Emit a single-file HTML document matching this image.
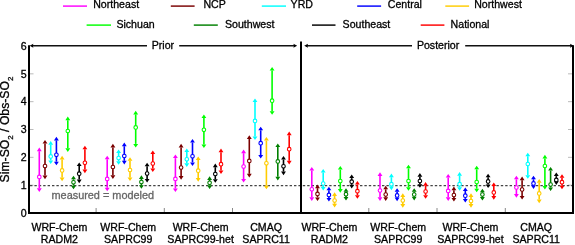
<!DOCTYPE html>
<html><head><meta charset="utf-8"><style>
html,body{margin:0;padding:0;background:#fff;overflow:hidden}
svg{display:block;will-change:transform}
text{font-family:"Liberation Sans", sans-serif;font-size:10.6px;fill:#000;stroke:#000;stroke-width:0.3px}
</style></head><body>
<svg width="575" height="245" viewBox="0 0 575 245">
<rect width="575" height="245" fill="#fff"/>
<line x1="63" y1="6.1" x2="87" y2="6.1" stroke="#ff00ff" stroke-width="1.45"/>
<text x="93.2" y="8.45">Northeast</text>
<line x1="170.8" y1="6.1" x2="194.6" y2="6.1" stroke="#7a0000" stroke-width="1.45"/>
<text x="203.4" y="8.45">NCP</text>
<line x1="261.8" y1="6.1" x2="286" y2="6.1" stroke="#00ffff" stroke-width="1.45"/>
<text x="290.6" y="8.45">YRD</text>
<line x1="357.2" y1="6.1" x2="381.1" y2="6.1" stroke="#0000ff" stroke-width="1.45"/>
<text x="387.8" y="8.45">Central</text>
<line x1="445.3" y1="6.1" x2="469.1" y2="6.1" stroke="#ffcc00" stroke-width="1.45"/>
<text x="474.2" y="8.45">Northwest</text>
<line x1="86.6" y1="25.1" x2="111" y2="25.1" stroke="#00ff00" stroke-width="1.45"/>
<text x="116.4" y="27.6">Sichuan</text>
<line x1="193.8" y1="25.1" x2="217.8" y2="25.1" stroke="#008000" stroke-width="1.45"/>
<text x="225" y="27.6">Southwest</text>
<line x1="312" y1="25.1" x2="335.5" y2="25.1" stroke="#000000" stroke-width="1.45"/>
<text x="342.6" y="27.6">Southeast</text>
<line x1="420.7" y1="25.1" x2="444.4" y2="25.1" stroke="#ff0000" stroke-width="1.45"/>
<text x="450.6" y="27.6">National</text>
<text x="26.6" y="216.7" text-anchor="end">0</text>
<text x="26.6" y="188.87" text-anchor="end">1</text>
<line x1="30" y1="185.17" x2="33.5" y2="185.17" stroke="#aaa" stroke-width="0.8"/>
<line x1="568" y1="185.17" x2="572" y2="185.17" stroke="#aaa" stroke-width="0.8"/>
<text x="26.6" y="161.03" text-anchor="end">2</text>
<line x1="30" y1="157.33" x2="33.5" y2="157.33" stroke="#aaa" stroke-width="0.8"/>
<line x1="568" y1="157.33" x2="572" y2="157.33" stroke="#aaa" stroke-width="0.8"/>
<text x="26.6" y="133.2" text-anchor="end">3</text>
<line x1="30" y1="129.5" x2="33.5" y2="129.5" stroke="#aaa" stroke-width="0.8"/>
<line x1="568" y1="129.5" x2="572" y2="129.5" stroke="#aaa" stroke-width="0.8"/>
<text x="26.6" y="105.37" text-anchor="end">4</text>
<line x1="30" y1="101.67" x2="33.5" y2="101.67" stroke="#aaa" stroke-width="0.8"/>
<line x1="568" y1="101.67" x2="572" y2="101.67" stroke="#aaa" stroke-width="0.8"/>
<text x="26.6" y="77.54" text-anchor="end">5</text>
<line x1="30" y1="73.84" x2="33.5" y2="73.84" stroke="#aaa" stroke-width="0.8"/>
<line x1="568" y1="73.84" x2="572" y2="73.84" stroke="#aaa" stroke-width="0.8"/>
<text x="26.6" y="49.7" text-anchor="end">6</text>
<text transform="translate(9.0,129.5) rotate(-90)" text-anchor="middle" style="font-size:12.2px">Sim-SO<tspan style="font-size:8px" dy="3.5">2</tspan><tspan dy="-3.5"> / Obs-SO</tspan><tspan style="font-size:8px" dy="3.5">2</tspan></text>
<line x1="30" y1="185.6" x2="572" y2="185.6" stroke="#444" stroke-width="1.2" stroke-dasharray="2.4 2"/>
<text x="51.5" y="199.4" style="fill:#666;stroke:#666;font-size:10.9px">measured = modeled</text>
<line x1="96.1" y1="208" x2="96.1" y2="212" stroke="#888" stroke-width="1"/>
<line x1="164.3" y1="208" x2="164.3" y2="212" stroke="#888" stroke-width="1"/>
<line x1="232.5" y1="208" x2="232.5" y2="212" stroke="#888" stroke-width="1"/>
<line x1="368.8" y1="208" x2="368.8" y2="212" stroke="#888" stroke-width="1"/>
<line x1="437" y1="208" x2="437" y2="212" stroke="#888" stroke-width="1"/>
<line x1="505.3" y1="208" x2="505.3" y2="212" stroke="#888" stroke-width="1"/>
<line x1="39.3" y1="151.2" x2="39.3" y2="188.3" stroke="#ff00ff" stroke-width="1.6"/>
<path d="M39.3 147.6L41.75 151.2L36.85 151.2Z M39.3 191.9L41.75 188.3L36.85 188.3Z" fill="#ff00ff"/>
<circle cx="39.3" cy="176.9" r="1.8" fill="#fff" stroke="#ff00ff" stroke-width="1.1"/>
<line x1="45" y1="143.5" x2="45" y2="175.6" stroke="#7a0000" stroke-width="1.6"/>
<path d="M45 139.9L47.45 143.5L42.55 143.5Z M45 179.2L47.45 175.6L42.55 175.6Z" fill="#7a0000"/>
<circle cx="45" cy="166.1" r="1.8" fill="#fff" stroke="#7a0000" stroke-width="1.1"/>
<line x1="50.7" y1="144.7" x2="50.7" y2="160.4" stroke="#00ffff" stroke-width="1.6"/>
<path d="M50.7 141.1L53.15 144.7L48.25 144.7Z M50.7 164L53.15 160.4L48.25 160.4Z" fill="#00ffff"/>
<circle cx="50.7" cy="156.4" r="1.8" fill="#fff" stroke="#00ffff" stroke-width="1.1"/>
<line x1="56.4" y1="140.4" x2="56.4" y2="161.7" stroke="#0000ff" stroke-width="1.6"/>
<path d="M56.4 136.8L58.85 140.4L53.95 140.4Z M56.4 165.3L58.85 161.7L53.95 161.7Z" fill="#0000ff"/>
<circle cx="56.4" cy="154.8" r="1.8" fill="#fff" stroke="#0000ff" stroke-width="1.1"/>
<line x1="62.1" y1="159.4" x2="62.1" y2="177.6" stroke="#ffcc00" stroke-width="1.6"/>
<path d="M62.1 155.8L64.55 159.4L59.65 159.4Z M62.1 181.2L64.55 177.6L59.65 177.6Z" fill="#ffcc00"/>
<circle cx="62.1" cy="170.4" r="1.8" fill="#fff" stroke="#ffcc00" stroke-width="1.1"/>
<line x1="67.8" y1="120.2" x2="67.8" y2="148.3" stroke="#00ff00" stroke-width="1.6"/>
<path d="M67.8 116.6L70.25 120.2L65.35 120.2Z M67.8 151.9L70.25 148.3L65.35 148.3Z" fill="#00ff00"/>
<circle cx="67.8" cy="131" r="1.8" fill="#fff" stroke="#00ff00" stroke-width="1.1"/>
<line x1="73.5" y1="179.3" x2="73.5" y2="185.7" stroke="#008000" stroke-width="1.6"/>
<path d="M73.5 175.7L75.95 179.3L71.05 179.3Z M73.5 189.3L75.95 185.7L71.05 185.7Z" fill="#008000"/>
<circle cx="73.5" cy="182.3" r="1.8" fill="#fff" stroke="#008000" stroke-width="1.1"/>
<line x1="79.2" y1="166" x2="79.2" y2="179.6" stroke="#000000" stroke-width="1.6"/>
<path d="M79.2 162.4L81.65 166L76.75 166Z M79.2 183.2L81.65 179.6L76.75 179.6Z" fill="#000000"/>
<circle cx="79.2" cy="173.7" r="1.8" fill="#fff" stroke="#000000" stroke-width="1.1"/>
<line x1="84.9" y1="149.3" x2="84.9" y2="169.6" stroke="#ff0000" stroke-width="1.6"/>
<path d="M84.9 145.7L87.35 149.3L82.45 149.3Z M84.9 173.2L87.35 169.6L82.45 169.6Z" fill="#ff0000"/>
<circle cx="84.9" cy="162.8" r="1.8" fill="#fff" stroke="#ff0000" stroke-width="1.1"/>
<line x1="107.2" y1="159.3" x2="107.2" y2="187.7" stroke="#ff00ff" stroke-width="1.6"/>
<path d="M107.2 155.7L109.65 159.3L104.75 159.3Z M107.2 191.3L109.65 187.7L104.75 187.7Z" fill="#ff00ff"/>
<circle cx="107.2" cy="178.9" r="1.8" fill="#fff" stroke="#ff00ff" stroke-width="1.1"/>
<line x1="112.9" y1="147.4" x2="112.9" y2="175.3" stroke="#7a0000" stroke-width="1.6"/>
<path d="M112.9 143.8L115.35 147.4L110.45 147.4Z M112.9 178.9L115.35 175.3L110.45 175.3Z" fill="#7a0000"/>
<circle cx="112.9" cy="167" r="1.8" fill="#fff" stroke="#7a0000" stroke-width="1.1"/>
<line x1="118.6" y1="153" x2="118.6" y2="161.2" stroke="#00ffff" stroke-width="1.6"/>
<path d="M118.6 149.4L121.05 153L116.15 153Z M118.6 164.8L121.05 161.2L116.15 161.2Z" fill="#00ffff"/>
<circle cx="118.6" cy="158.1" r="1.8" fill="#fff" stroke="#00ffff" stroke-width="1.1"/>
<line x1="124.3" y1="146.2" x2="124.3" y2="160.8" stroke="#0000ff" stroke-width="1.6"/>
<path d="M124.3 142.6L126.75 146.2L121.85 146.2Z M124.3 164.4L126.75 160.8L121.85 160.8Z" fill="#0000ff"/>
<circle cx="124.3" cy="156" r="1.8" fill="#fff" stroke="#0000ff" stroke-width="1.1"/>
<line x1="130" y1="160.8" x2="130" y2="177.5" stroke="#ffcc00" stroke-width="1.6"/>
<path d="M130 157.2L132.45 160.8L127.55 160.8Z M130 181.1L132.45 177.5L127.55 177.5Z" fill="#ffcc00"/>
<circle cx="130" cy="170" r="1.8" fill="#fff" stroke="#ffcc00" stroke-width="1.1"/>
<line x1="135.7" y1="114.4" x2="135.7" y2="143.9" stroke="#00ff00" stroke-width="1.6"/>
<path d="M135.7 110.8L138.15 114.4L133.25 114.4Z M135.7 147.5L138.15 143.9L133.25 143.9Z" fill="#00ff00"/>
<circle cx="135.7" cy="127.4" r="1.8" fill="#fff" stroke="#00ff00" stroke-width="1.1"/>
<line x1="141.4" y1="178.9" x2="141.4" y2="185.2" stroke="#008000" stroke-width="1.6"/>
<path d="M141.4 175.3L143.85 178.9L138.95 178.9Z M141.4 188.8L143.85 185.2L138.95 185.2Z" fill="#008000"/>
<circle cx="141.4" cy="182" r="1.8" fill="#fff" stroke="#008000" stroke-width="1.1"/>
<line x1="147.1" y1="166.3" x2="147.1" y2="178.9" stroke="#000000" stroke-width="1.6"/>
<path d="M147.1 162.7L149.55 166.3L144.65 166.3Z M147.1 182.5L149.55 178.9L144.65 178.9Z" fill="#000000"/>
<circle cx="147.1" cy="173.6" r="1.8" fill="#fff" stroke="#000000" stroke-width="1.1"/>
<line x1="152.8" y1="154" x2="152.8" y2="168.5" stroke="#ff0000" stroke-width="1.6"/>
<path d="M152.8 150.4L155.25 154L150.35 154Z M152.8 172.1L155.25 168.5L150.35 168.5Z" fill="#ff0000"/>
<circle cx="152.8" cy="163.6" r="1.8" fill="#fff" stroke="#ff0000" stroke-width="1.1"/>
<line x1="175.4" y1="158.1" x2="175.4" y2="188.5" stroke="#ff00ff" stroke-width="1.6"/>
<path d="M175.4 154.5L177.85 158.1L172.95 158.1Z M175.4 192.1L177.85 188.5L172.95 188.5Z" fill="#ff00ff"/>
<circle cx="175.4" cy="178.9" r="1.8" fill="#fff" stroke="#ff00ff" stroke-width="1.1"/>
<line x1="181.1" y1="147.4" x2="181.1" y2="176.1" stroke="#7a0000" stroke-width="1.6"/>
<path d="M181.1 143.8L183.55 147.4L178.65 147.4Z M181.1 179.7L183.55 176.1L178.65 176.1Z" fill="#7a0000"/>
<circle cx="181.1" cy="167.6" r="1.8" fill="#fff" stroke="#7a0000" stroke-width="1.1"/>
<line x1="186.8" y1="152" x2="186.8" y2="163.3" stroke="#00ffff" stroke-width="1.6"/>
<path d="M186.8 148.4L189.25 152L184.35 152Z M186.8 166.9L189.25 163.3L184.35 163.3Z" fill="#00ffff"/>
<circle cx="186.8" cy="159.3" r="1.8" fill="#fff" stroke="#00ffff" stroke-width="1.1"/>
<line x1="192.5" y1="142.5" x2="192.5" y2="162.4" stroke="#0000ff" stroke-width="1.6"/>
<path d="M192.5 138.9L194.95 142.5L190.05 142.5Z M192.5 166L194.95 162.4L190.05 162.4Z" fill="#0000ff"/>
<circle cx="192.5" cy="156.3" r="1.8" fill="#fff" stroke="#0000ff" stroke-width="1.1"/>
<line x1="198.2" y1="160" x2="198.2" y2="178.1" stroke="#ffcc00" stroke-width="1.6"/>
<path d="M198.2 156.4L200.65 160L195.75 160Z M198.2 181.7L200.65 178.1L195.75 178.1Z" fill="#ffcc00"/>
<circle cx="198.2" cy="170.7" r="1.8" fill="#fff" stroke="#ffcc00" stroke-width="1.1"/>
<line x1="203.9" y1="118" x2="203.9" y2="144.5" stroke="#00ff00" stroke-width="1.6"/>
<path d="M203.9 114.4L206.35 118L201.45 118Z M203.9 148.1L206.35 144.5L201.45 144.5Z" fill="#00ff00"/>
<circle cx="203.9" cy="129.8" r="1.8" fill="#fff" stroke="#00ff00" stroke-width="1.1"/>
<line x1="209.6" y1="179.9" x2="209.6" y2="185.5" stroke="#008000" stroke-width="1.6"/>
<path d="M209.6 176.3L212.05 179.9L207.15 179.9Z M209.6 189.1L212.05 185.5L207.15 185.5Z" fill="#008000"/>
<circle cx="209.6" cy="182.8" r="1.8" fill="#fff" stroke="#008000" stroke-width="1.1"/>
<line x1="215.3" y1="167.2" x2="215.3" y2="179.2" stroke="#000000" stroke-width="1.6"/>
<path d="M215.3 163.6L217.75 167.2L212.85 167.2Z M215.3 182.8L217.75 179.2L212.85 179.2Z" fill="#000000"/>
<circle cx="215.3" cy="174" r="1.8" fill="#fff" stroke="#000000" stroke-width="1.1"/>
<line x1="221" y1="152.2" x2="221" y2="170.4" stroke="#ff0000" stroke-width="1.6"/>
<path d="M221 148.6L223.45 152.2L218.55 152.2Z M221 174L223.45 170.4L218.55 170.4Z" fill="#ff0000"/>
<circle cx="221" cy="164.2" r="1.8" fill="#fff" stroke="#ff0000" stroke-width="1.1"/>
<line x1="243.6" y1="153.2" x2="243.6" y2="179" stroke="#ff00ff" stroke-width="1.6"/>
<path d="M243.6 149.6L246.05 153.2L241.15 153.2Z M243.6 182.6L246.05 179L241.15 179Z" fill="#ff00ff"/>
<circle cx="243.6" cy="166.6" r="1.8" fill="#fff" stroke="#ff00ff" stroke-width="1.1"/>
<line x1="249.3" y1="138.9" x2="249.3" y2="173.8" stroke="#7a0000" stroke-width="1.6"/>
<path d="M249.3 135.3L251.75 138.9L246.85 138.9Z M249.3 177.4L251.75 173.8L246.85 173.8Z" fill="#7a0000"/>
<circle cx="249.3" cy="160.9" r="1.8" fill="#fff" stroke="#7a0000" stroke-width="1.1"/>
<line x1="255" y1="102.1" x2="255" y2="136.5" stroke="#00ffff" stroke-width="1.6"/>
<path d="M255 98.5L257.45 102.1L252.55 102.1Z M255 140.1L257.45 136.5L252.55 136.5Z" fill="#00ffff"/>
<circle cx="255" cy="120.9" r="1.8" fill="#fff" stroke="#00ffff" stroke-width="1.1"/>
<line x1="260.7" y1="130.3" x2="260.7" y2="155" stroke="#0000ff" stroke-width="1.6"/>
<path d="M260.7 126.7L263.15 130.3L258.25 130.3Z M260.7 158.6L263.15 155L258.25 155Z" fill="#0000ff"/>
<circle cx="260.7" cy="143.2" r="1.8" fill="#fff" stroke="#0000ff" stroke-width="1.1"/>
<line x1="266.4" y1="140.6" x2="266.4" y2="185.7" stroke="#ffcc00" stroke-width="1.6"/>
<path d="M266.4 137L268.85 140.6L263.95 140.6Z M266.4 189.3L268.85 185.7L263.95 185.7Z" fill="#ffcc00"/>
<circle cx="266.4" cy="163.3" r="1.8" fill="#fff" stroke="#ffcc00" stroke-width="1.1"/>
<line x1="272.1" y1="70.6" x2="272.1" y2="111.2" stroke="#00ff00" stroke-width="1.6"/>
<path d="M272.1 67L274.55 70.6L269.65 70.6Z M272.1 114.8L274.55 111.2L269.65 111.2Z" fill="#00ff00"/>
<circle cx="272.1" cy="100.7" r="1.8" fill="#fff" stroke="#00ff00" stroke-width="1.1"/>
<line x1="277.8" y1="147.1" x2="277.8" y2="176.8" stroke="#008000" stroke-width="1.6"/>
<path d="M277.8 143.5L280.25 147.1L275.35 147.1Z M277.8 180.4L280.25 176.8L275.35 176.8Z" fill="#008000"/>
<circle cx="277.8" cy="161.4" r="1.8" fill="#fff" stroke="#008000" stroke-width="1.1"/>
<line x1="283.5" y1="159.5" x2="283.5" y2="171.6" stroke="#000000" stroke-width="1.6"/>
<path d="M283.5 155.9L285.95 159.5L281.05 159.5Z M283.5 175.2L285.95 171.6L281.05 171.6Z" fill="#000000"/>
<circle cx="283.5" cy="166.3" r="1.8" fill="#fff" stroke="#000000" stroke-width="1.1"/>
<line x1="289.2" y1="135.2" x2="289.2" y2="160.8" stroke="#ff0000" stroke-width="1.6"/>
<path d="M289.2 131.6L291.65 135.2L286.75 135.2Z M289.2 164.4L291.65 160.8L286.75 160.8Z" fill="#ff0000"/>
<circle cx="289.2" cy="149.2" r="1.8" fill="#fff" stroke="#ff0000" stroke-width="1.1"/>
<line x1="311.8" y1="170.5" x2="311.8" y2="197.3" stroke="#ff00ff" stroke-width="1.6"/>
<path d="M311.8 166.9L314.25 170.5L309.35 170.5Z M311.8 200.9L314.25 197.3L309.35 197.3Z" fill="#ff00ff"/>
<circle cx="311.8" cy="189.3" r="1.8" fill="#fff" stroke="#ff00ff" stroke-width="1.1"/>
<line x1="317.5" y1="188.2" x2="317.5" y2="197.4" stroke="#7a0000" stroke-width="1.6"/>
<path d="M317.5 184.6L319.95 188.2L315.05 188.2Z M317.5 201L319.95 197.4L315.05 197.4Z" fill="#7a0000"/>
<circle cx="317.5" cy="193.9" r="1.8" fill="#fff" stroke="#7a0000" stroke-width="1.1"/>
<line x1="323.2" y1="172.6" x2="323.2" y2="186.9" stroke="#00ffff" stroke-width="1.6"/>
<path d="M323.2 169L325.65 172.6L320.75 172.6Z M323.2 190.5L325.65 186.9L320.75 186.9Z" fill="#00ffff"/>
<circle cx="323.2" cy="183.5" r="1.8" fill="#fff" stroke="#00ffff" stroke-width="1.1"/>
<line x1="328.9" y1="190.3" x2="328.9" y2="197.9" stroke="#0000ff" stroke-width="1.6"/>
<path d="M328.9 186.7L331.35 190.3L326.45 190.3Z M328.9 201.5L331.35 197.9L326.45 197.9Z" fill="#0000ff"/>
<circle cx="328.9" cy="194.9" r="1.8" fill="#fff" stroke="#0000ff" stroke-width="1.1"/>
<line x1="334.6" y1="195.9" x2="334.6" y2="203.8" stroke="#ffcc00" stroke-width="1.6"/>
<path d="M334.6 192.3L337.05 195.9L332.15 195.9Z M334.6 207.4L337.05 203.8L332.15 203.8Z" fill="#ffcc00"/>
<circle cx="334.6" cy="200.6" r="1.8" fill="#fff" stroke="#ffcc00" stroke-width="1.1"/>
<line x1="340.3" y1="169.6" x2="340.3" y2="189.1" stroke="#00ff00" stroke-width="1.6"/>
<path d="M340.3 166L342.75 169.6L337.85 169.6Z M340.3 192.7L342.75 189.1L337.85 189.1Z" fill="#00ff00"/>
<circle cx="340.3" cy="181.1" r="1.8" fill="#fff" stroke="#00ff00" stroke-width="1.1"/>
<line x1="346" y1="191.8" x2="346" y2="197" stroke="#008000" stroke-width="1.6"/>
<path d="M346 188.2L348.45 191.8L343.55 191.8Z M346 200.6L348.45 197L343.55 197Z" fill="#008000"/>
<circle cx="346" cy="194.2" r="1.8" fill="#fff" stroke="#008000" stroke-width="1.1"/>
<line x1="351.7" y1="178.1" x2="351.7" y2="184.8" stroke="#000000" stroke-width="1.6"/>
<path d="M351.7 174.5L354.15 178.1L349.25 178.1Z M351.7 188.4L354.15 184.8L349.25 184.8Z" fill="#000000"/>
<circle cx="351.7" cy="181.7" r="1.8" fill="#fff" stroke="#000000" stroke-width="1.1"/>
<line x1="357.4" y1="184.5" x2="357.4" y2="195.2" stroke="#ff0000" stroke-width="1.6"/>
<path d="M357.4 180.9L359.85 184.5L354.95 184.5Z M357.4 198.8L359.85 195.2L354.95 195.2Z" fill="#ff0000"/>
<circle cx="357.4" cy="191.2" r="1.8" fill="#fff" stroke="#ff0000" stroke-width="1.1"/>
<line x1="380" y1="175.9" x2="380" y2="197.3" stroke="#ff00ff" stroke-width="1.6"/>
<path d="M380 172.3L382.45 175.9L377.55 175.9Z M380 200.9L382.45 197.3L377.55 197.3Z" fill="#ff00ff"/>
<circle cx="380" cy="190.5" r="1.8" fill="#fff" stroke="#ff00ff" stroke-width="1.1"/>
<line x1="385.7" y1="189.3" x2="385.7" y2="197.3" stroke="#7a0000" stroke-width="1.6"/>
<path d="M385.7 185.7L388.15 189.3L383.25 189.3Z M385.7 200.9L388.15 197.3L383.25 197.3Z" fill="#7a0000"/>
<circle cx="385.7" cy="194.5" r="1.8" fill="#fff" stroke="#7a0000" stroke-width="1.1"/>
<line x1="391.4" y1="177.2" x2="391.4" y2="186.6" stroke="#00ffff" stroke-width="1.6"/>
<path d="M391.4 173.6L393.85 177.2L388.95 177.2Z M391.4 190.2L393.85 186.6L388.95 186.6Z" fill="#00ffff"/>
<circle cx="391.4" cy="184.2" r="1.8" fill="#fff" stroke="#00ffff" stroke-width="1.1"/>
<line x1="397.1" y1="191.8" x2="397.1" y2="197.6" stroke="#0000ff" stroke-width="1.6"/>
<path d="M397.1 188.2L399.55 191.8L394.65 191.8Z M397.1 201.2L399.55 197.6L394.65 197.6Z" fill="#0000ff"/>
<circle cx="397.1" cy="195.4" r="1.8" fill="#fff" stroke="#0000ff" stroke-width="1.1"/>
<line x1="402.8" y1="196.9" x2="402.8" y2="204.1" stroke="#ffcc00" stroke-width="1.6"/>
<path d="M402.8 193.3L405.25 196.9L400.35 196.9Z M402.8 207.7L405.25 204.1L400.35 204.1Z" fill="#ffcc00"/>
<circle cx="402.8" cy="200.6" r="1.8" fill="#fff" stroke="#ffcc00" stroke-width="1.1"/>
<line x1="408.5" y1="168.3" x2="408.5" y2="187.2" stroke="#00ff00" stroke-width="1.6"/>
<path d="M408.5 164.7L410.95 168.3L406.05 168.3Z M408.5 190.8L410.95 187.2L406.05 187.2Z" fill="#00ff00"/>
<circle cx="408.5" cy="181" r="1.8" fill="#fff" stroke="#00ff00" stroke-width="1.1"/>
<line x1="414.2" y1="191.8" x2="414.2" y2="196.8" stroke="#008000" stroke-width="1.6"/>
<path d="M414.2 188.2L416.65 191.8L411.75 191.8Z M414.2 200.4L416.65 196.8L411.75 196.8Z" fill="#008000"/>
<circle cx="414.2" cy="194.5" r="1.8" fill="#fff" stroke="#008000" stroke-width="1.1"/>
<line x1="419.9" y1="176.7" x2="419.9" y2="184.2" stroke="#000000" stroke-width="1.6"/>
<path d="M419.9 173.1L422.35 176.7L417.45 176.7Z M419.9 187.8L422.35 184.2L417.45 184.2Z" fill="#000000"/>
<circle cx="419.9" cy="181" r="1.8" fill="#fff" stroke="#000000" stroke-width="1.1"/>
<line x1="425.6" y1="185.7" x2="425.6" y2="195.2" stroke="#ff0000" stroke-width="1.6"/>
<path d="M425.6 182.1L428.05 185.7L423.15 185.7Z M425.6 198.8L428.05 195.2L423.15 195.2Z" fill="#ff0000"/>
<circle cx="425.6" cy="191.5" r="1.8" fill="#fff" stroke="#ff0000" stroke-width="1.1"/>
<line x1="448.2" y1="177.5" x2="448.2" y2="197.3" stroke="#ff00ff" stroke-width="1.6"/>
<path d="M448.2 173.9L450.65 177.5L445.75 177.5Z M448.2 200.9L450.65 197.3L445.75 197.3Z" fill="#ff00ff"/>
<circle cx="448.2" cy="190.9" r="1.8" fill="#fff" stroke="#ff00ff" stroke-width="1.1"/>
<line x1="453.9" y1="190.2" x2="453.9" y2="198" stroke="#7a0000" stroke-width="1.6"/>
<path d="M453.9 186.6L456.35 190.2L451.45 190.2Z M453.9 201.6L456.35 198L451.45 198Z" fill="#7a0000"/>
<circle cx="453.9" cy="195.1" r="1.8" fill="#fff" stroke="#7a0000" stroke-width="1.1"/>
<line x1="459.6" y1="175.7" x2="459.6" y2="187.2" stroke="#00ffff" stroke-width="1.6"/>
<path d="M459.6 172.1L462.05 175.7L457.15 175.7Z M459.6 190.8L462.05 187.2L457.15 187.2Z" fill="#00ffff"/>
<circle cx="459.6" cy="184.2" r="1.8" fill="#fff" stroke="#00ffff" stroke-width="1.1"/>
<line x1="465.3" y1="191" x2="465.3" y2="198.9" stroke="#0000ff" stroke-width="1.6"/>
<path d="M465.3 187.4L467.75 191L462.85 191Z M465.3 202.5L467.75 198.9L462.85 198.9Z" fill="#0000ff"/>
<circle cx="465.3" cy="195.7" r="1.8" fill="#fff" stroke="#0000ff" stroke-width="1.1"/>
<line x1="471" y1="196.9" x2="471" y2="204.1" stroke="#ffcc00" stroke-width="1.6"/>
<path d="M471 193.3L473.45 196.9L468.55 196.9Z M471 207.7L473.45 204.1L468.55 204.1Z" fill="#ffcc00"/>
<circle cx="471" cy="201" r="1.8" fill="#fff" stroke="#ffcc00" stroke-width="1.1"/>
<line x1="476.7" y1="169.3" x2="476.7" y2="188.7" stroke="#00ff00" stroke-width="1.6"/>
<path d="M476.7 165.7L479.15 169.3L474.25 169.3Z M476.7 192.3L479.15 188.7L474.25 188.7Z" fill="#00ff00"/>
<circle cx="476.7" cy="182" r="1.8" fill="#fff" stroke="#00ff00" stroke-width="1.1"/>
<line x1="482.4" y1="192.3" x2="482.4" y2="197" stroke="#008000" stroke-width="1.6"/>
<path d="M482.4 188.7L484.85 192.3L479.95 192.3Z M482.4 200.6L484.85 197L479.95 197Z" fill="#008000"/>
<circle cx="482.4" cy="194.5" r="1.8" fill="#fff" stroke="#008000" stroke-width="1.1"/>
<line x1="488.1" y1="177.3" x2="488.1" y2="184.5" stroke="#000000" stroke-width="1.6"/>
<path d="M488.1 173.7L490.55 177.3L485.65 177.3Z M488.1 188.1L490.55 184.5L485.65 184.5Z" fill="#000000"/>
<circle cx="488.1" cy="181.4" r="1.8" fill="#fff" stroke="#000000" stroke-width="1.1"/>
<line x1="493.8" y1="186.1" x2="493.8" y2="196.1" stroke="#ff0000" stroke-width="1.6"/>
<path d="M493.8 182.5L496.25 186.1L491.35 186.1Z M493.8 199.7L496.25 196.1L491.35 196.1Z" fill="#ff0000"/>
<circle cx="493.8" cy="192.4" r="1.8" fill="#fff" stroke="#ff0000" stroke-width="1.1"/>
<line x1="516.4" y1="179.3" x2="516.4" y2="194.1" stroke="#ff00ff" stroke-width="1.6"/>
<path d="M516.4 175.7L518.85 179.3L513.95 179.3Z M516.4 197.7L518.85 194.1L513.95 194.1Z" fill="#ff00ff"/>
<circle cx="516.4" cy="187.5" r="1.8" fill="#fff" stroke="#ff00ff" stroke-width="1.1"/>
<line x1="522.1" y1="180.2" x2="522.1" y2="196" stroke="#7a0000" stroke-width="1.6"/>
<path d="M522.1 176.6L524.55 180.2L519.65 180.2Z M522.1 199.6L524.55 196L519.65 196Z" fill="#7a0000"/>
<circle cx="522.1" cy="189.5" r="1.8" fill="#fff" stroke="#7a0000" stroke-width="1.1"/>
<line x1="527.8" y1="156.3" x2="527.8" y2="175.2" stroke="#00ffff" stroke-width="1.6"/>
<path d="M527.8 152.7L530.25 156.3L525.35 156.3Z M527.8 178.8L530.25 175.2L525.35 175.2Z" fill="#00ffff"/>
<circle cx="527.8" cy="164" r="1.8" fill="#fff" stroke="#00ffff" stroke-width="1.1"/>
<line x1="533.5" y1="179.3" x2="533.5" y2="185.3" stroke="#0000ff" stroke-width="1.6"/>
<path d="M533.5 175.7L535.95 179.3L531.05 179.3Z M533.5 188.9L535.95 185.3L531.05 185.3Z" fill="#0000ff"/>
<circle cx="533.5" cy="183.4" r="1.8" fill="#fff" stroke="#0000ff" stroke-width="1.1"/>
<line x1="539.2" y1="182.7" x2="539.2" y2="199.6" stroke="#ffcc00" stroke-width="1.6"/>
<path d="M539.2 179.1L541.65 182.7L536.75 182.7Z M539.2 203.2L541.65 199.6L536.75 199.6Z" fill="#ffcc00"/>
<circle cx="539.2" cy="193.4" r="1.8" fill="#fff" stroke="#ffcc00" stroke-width="1.1"/>
<line x1="544.9" y1="158.4" x2="544.9" y2="186" stroke="#00ff00" stroke-width="1.6"/>
<path d="M544.9 154.8L547.35 158.4L542.45 158.4Z M544.9 189.6L547.35 186L542.45 186Z" fill="#00ff00"/>
<circle cx="544.9" cy="166" r="1.8" fill="#fff" stroke="#00ff00" stroke-width="1.1"/>
<line x1="550.6" y1="170.5" x2="550.6" y2="187.5" stroke="#008000" stroke-width="1.6"/>
<path d="M550.6 166.9L553.05 170.5L548.15 170.5Z M550.6 191.1L553.05 187.5L548.15 187.5Z" fill="#008000"/>
<circle cx="550.6" cy="184.6" r="1.8" fill="#fff" stroke="#008000" stroke-width="1.1"/>
<line x1="556.3" y1="176.1" x2="556.3" y2="181.3" stroke="#000000" stroke-width="1.6"/>
<path d="M556.3 172.5L558.75 176.1L553.85 176.1Z M556.3 184.9L558.75 181.3L553.85 181.3Z" fill="#000000"/>
<circle cx="556.3" cy="179.9" r="1.8" fill="#fff" stroke="#000000" stroke-width="1.1"/>
<line x1="562" y1="177.8" x2="562" y2="185.7" stroke="#ff0000" stroke-width="1.6"/>
<path d="M562 174.2L564.45 177.8L559.55 177.8Z M562 189.3L564.45 185.7L559.55 185.7Z" fill="#ff0000"/>
<circle cx="562" cy="182.2" r="1.8" fill="#fff" stroke="#ff0000" stroke-width="1.1"/>
<path d="M29 45.2V213H573V45.2" fill="none" stroke="#000" stroke-width="2"/>
<line x1="301" y1="41.4" x2="301" y2="213" stroke="#000" stroke-width="2"/>
<path d="M32 45.7H147 M179.2 45.7H295 M306 45.7H412 M465.2 45.7H571" stroke="#111" stroke-width="1.4" fill="none"/>
<path d="M29.6 45.7L33.4 43.75L32.8 45.7L33.4 47.65Z M297.2 45.7L293.4 43.75L294 45.7L293.4 47.65Z M304.2 45.7L308 43.75L307.4 45.7L308 47.65Z M573.8 45.7L570 43.75L570.6 45.7L570 47.65Z" fill="#000"/>
<text x="162.9" y="48.9" text-anchor="middle">Prior</text>
<text x="438.1" y="48.9" text-anchor="middle">Posterior</text>
<text x="59.4" y="230.9" text-anchor="middle">WRF-Chem</text>
<text x="59.4" y="243.4" text-anchor="middle">RADM2</text>
<text x="128.2" y="230.9" text-anchor="middle">WRF-Chem</text>
<text x="128.2" y="243.4" text-anchor="middle">SAPRC99</text>
<text x="200.6" y="230.9" text-anchor="middle">WRF-Chem</text>
<text x="200.6" y="243.4" text-anchor="middle">SAPRC99-het</text>
<text x="266.1" y="230.9" text-anchor="middle">CMAQ</text>
<text x="266.1" y="243.4" text-anchor="middle">SAPRC11</text>
<text x="329.4" y="230.9" text-anchor="middle">WRF-Chem</text>
<text x="329.4" y="243.4" text-anchor="middle">RADM2</text>
<text x="398.2" y="230.9" text-anchor="middle">WRF-Chem</text>
<text x="398.2" y="243.4" text-anchor="middle">SAPRC99</text>
<text x="470.4" y="230.9" text-anchor="middle">WRF-Chem</text>
<text x="470.4" y="243.4" text-anchor="middle">SAPRC99-het</text>
<text x="536.2" y="230.9" text-anchor="middle">CMAQ</text>
<text x="536.2" y="243.4" text-anchor="middle">SAPRC11</text>
</svg>
</body></html>
